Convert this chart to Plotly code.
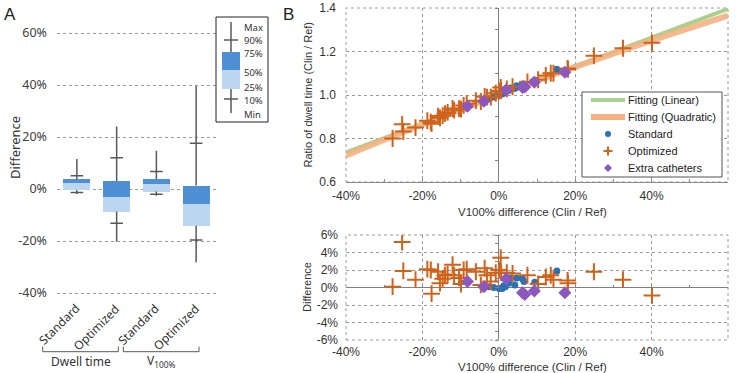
import plotly.graph_objects as go

W, H = 740, 373


def px(x):
    return x / W


def py(y):
    return 1 - y / H


# ---------------- Panel A data ----------------
cat_pos = [1, 2, 3, 4]
cat_labels = ["Standard", "Optimized", "Standard", "Optimized"]
group_labels = ["Dwell time", "V<sub>100%</sub>"]
box_min = [-0.019, -0.203, -0.026, -0.282]
box_p10 = [-0.013, -0.132, -0.020, -0.196]
box_q25 = [-0.004, -0.087, -0.010, -0.141]
box_med = [0.024, -0.032, 0.019, -0.059]
box_q75 = [0.037, 0.031, 0.038, 0.013]
box_p90 = [0.051, 0.120, 0.067, 0.176]
box_max = [0.115, 0.240, 0.147, 0.396]
a_ticks = [-0.4, -0.2, 0.0, 0.2, 0.4, 0.6]
a_ticktext = ["-40%", "-20%", "0%", "20%", "40%", "60%"]
a_legend_labels = ["Max", "90%", "75%", "50%", "25%", "10%", "Min"]

# ---------------- Panel B data ----------------
fit_lin_x = [-0.4, 0.6]
fit_lin_y = [0.736, 1.396]
fit_quad_x = [-0.4, -0.2, 0.0, 0.2, 0.4, 0.6]
fit_quad_y = [0.722, 0.864, 1.0, 1.129, 1.250, 1.365]

std_x = [-0.025, -0.013, 0.001, 0.009, 0.013, 0.017, 0.023, 0.026, 0.031, 0.042, 0.047, 0.062, 0.066, 0.094, 0.152]
std_ratio = [0.984, 0.991, 1.000, 1.005, 1.011, 1.012, 1.025, 1.022, 1.032, 1.031, 1.042, 1.051, 1.050, 1.068, 1.118]
std_diff = [0.001, 0.000, -0.001, -0.001, 0.002, 0.001, 0.010, 0.005, 0.011, 0.003, 0.011, 0.010, 0.007, 0.006, 0.019]

opt_x = [-0.278, -0.253, -0.250, -0.218, -0.187, -0.178, -0.176, -0.159, -0.154, -0.147,
         -0.141, -0.134, -0.121, -0.117, -0.104, -0.099, -0.092, -0.084, -0.060, -0.047,
         -0.037, -0.031, -0.021, -0.008, 0.001, 0.005, 0.006, 0.021, 0.036, 0.075,
         0.103, 0.123, 0.136, 0.143, 0.180, 0.181, 0.249, 0.325, 0.401]
opt_ratio = [0.800, 0.865, 0.832, 0.850, 0.882, 0.875, 0.868, 0.903, 0.895, 0.905,
             0.914, 0.920, 0.938, 0.930, 0.937, 0.935, 0.952, 0.960, 0.974, 0.970,
             0.993, 0.990, 0.990, 1.008, 1.018, 1.035, 1.020, 1.028, 1.038, 1.060,
             1.070, 1.090, 1.100, 1.100, 1.122, 1.118, 1.180, 1.215, 1.240]
opt_diff = [0.001, 0.052, 0.019, 0.009, 0.021, 0.020, -0.007, 0.018, 0.005, 0.010,
            0.014, 0.015, 0.026, 0.014, 0.011, 0.004, 0.020, 0.021, 0.018, 0.003,
            0.022, 0.014, 0.007, 0.017, 0.020, 0.034, 0.017, 0.017, 0.016, 0.014,
            0.004, 0.012, 0.014, 0.009, 0.008, 0.005, 0.018, 0.009, -0.009]

ext_x = [-0.082, -0.039, 0.019, 0.062, 0.068, 0.093, 0.173]
ext_ratio = [0.948, 0.971, 1.023, 1.035, 1.037, 1.059, 1.105]
ext_diff = [0.007, 0.001, 0.010, -0.006, -0.008, -0.004, -0.006]

b_legend_labels = ["Fitting (Linear)", "Fitting (Quadratic)", "Standard", "Optimized", "Extra catheters"]

bx_ticks = [-0.4, -0.2, 0.0, 0.2, 0.4, 0.6]
bx_ticktext = ["-40%", "-20%", "0%", "20%", "40%", "60%"]
by_ticks = [0.6, 0.8, 1.0, 1.2, 1.4]
by_ticktext = ["0.6", "0.8", "1.0", "1.2", "1.4"]
bd_ticks = [-0.06, -0.04, -0.02, 0.0, 0.02, 0.04, 0.06]
bd_ticktext = ["-6%", "-4%", "-2%", "0%", "2%", "4%", "6%"]

# ---------------- styles ----------------
DARK = "#4f8fd3"
LIGHT = "#bcd6ef"
WHISK = "#595959"
GRID = "#9a9a9a"
AXL = "#8c8c8c"
BLUE = "#2f70b0"
ORANGE = "#d0631c"
PURPLE = "#8c58bd"
GREEN = "#a9d18e"
PEACH = "#f4b183"
FA = "Noto Sans"
FB = "Liberation Sans"

fig = go.Figure()

# Panel A boxes
fig.add_trace(go.Bar(x=cat_pos, y=[m - q for m, q in zip(box_med, box_q25)], base=box_q25,
                     width=0.68, marker=dict(color=LIGHT, line=dict(width=0)),
                     xaxis="x", yaxis="y", hoverinfo="skip"))
fig.add_trace(go.Bar(x=cat_pos, y=[q - m for q, m in zip(box_q75, box_med)], base=box_med,
                     width=0.68, marker=dict(color=DARK, line=dict(width=0)),
                     xaxis="x", yaxis="y", hoverinfo="skip"))
wx, wy = [], []
for c, lo, q1, q3, hi in zip(cat_pos, box_min, box_q25, box_q75, box_max):
    wx += [c, c, None, c, c, None]
    wy += [lo, q1, None, q3, hi, None]
fig.add_trace(go.Scatter(x=wx, y=wy, mode="lines", line=dict(color=WHISK, width=1.5),
                         xaxis="x", yaxis="y", hoverinfo="skip"))
fig.add_trace(go.Scatter(x=cat_pos + cat_pos, y=box_p10 + box_p90, mode="markers",
                         marker=dict(symbol="line-ew", size=9, color=WHISK,
                                     line=dict(color=WHISK, width=1.5)),
                         xaxis="x", yaxis="y", hoverinfo="skip"))

# Panel B top
fig.add_trace(go.Scatter(x=fit_lin_x, y=fit_lin_y, mode="lines", name=b_legend_labels[0],
                         line=dict(color=GREEN, width=4), xaxis="x2", yaxis="y2"))
fig.add_trace(go.Scatter(x=fit_quad_x, y=fit_quad_y, mode="lines", name=b_legend_labels[1],
                         line=dict(color=PEACH, width=6, shape="spline"), opacity=0.9,
                         xaxis="x2", yaxis="y2"))
fig.add_trace(go.Scatter(x=std_x, y=std_ratio, mode="markers", name=b_legend_labels[2],
                         marker=dict(symbol="circle", size=7, color=BLUE),
                         xaxis="x2", yaxis="y2"))
fig.add_trace(go.Scatter(x=opt_x, y=opt_ratio, mode="markers", name=b_legend_labels[3],
                         marker=dict(symbol="cross-thin-open", size=12, color=ORANGE,
                                     line=dict(color=ORANGE, width=2)),
                         xaxis="x2", yaxis="y2"))
fig.add_trace(go.Scatter(x=ext_x, y=ext_ratio, mode="markers", name=b_legend_labels[4],
                         marker=dict(symbol="diamond", size=10, color=PURPLE),
                         xaxis="x2", yaxis="y2"))

# Panel B bottom
fig.add_trace(go.Scatter(x=std_x, y=std_diff, mode="markers",
                         marker=dict(symbol="circle", size=7, color=BLUE), xaxis="x3", yaxis="y3"))
fig.add_trace(go.Scatter(x=opt_x, y=opt_diff, mode="markers",
                         marker=dict(symbol="cross-thin-open", size=12, color=ORANGE,
                                     line=dict(color=ORANGE, width=2)),
                         xaxis="x3", yaxis="y3"))
fig.add_trace(go.Scatter(x=ext_x, y=ext_diff, mode="markers",
                         marker=dict(symbol="diamond", size=10, color=PURPLE), xaxis="x3", yaxis="y3"))

# invisible carriers for overlay tick axes
fig.add_trace(go.Scatter(x=[None], y=[None], xaxis="x2", yaxis="y4", hoverinfo="skip"))
fig.add_trace(go.Scatter(x=[None], y=[None], xaxis="x3", yaxis="y5", hoverinfo="skip"))
fig.add_trace(go.Scatter(x=[None], y=[None], xaxis="x4", yaxis="y3", hoverinfo="skip"))

tfA = dict(family=FA, size=12.5, color="#404040")
tfB = dict(family=FB, size=12, color="#333333")
grid = dict(showgrid=True, gridcolor=GRID, griddash="dot", gridwidth=1)

fig.update_layout(
    width=W, height=H, autosize=False,
    margin=dict(l=0, r=0, t=0, b=0, pad=0, autoexpand=False),
    paper_bgcolor="white", plot_bgcolor="rgba(0,0,0,0)",
    barmode="overlay", bargap=0, showlegend=False, hovermode=False,
    xaxis=dict(domain=[px(57), px(216)], range=[0.5, 4.5], visible=False, anchor="y"),
    yaxis=dict(domain=[py(298.2), py(27.8)], range=[-0.42, 0.62], anchor="x",
               tickmode="array", tickvals=a_ticks, ticktext=a_ticktext, tickfont=tfA,
               zeroline=False, showline=False, ticks="", ticklabelstandoff=9, automargin=False, **grid),
    xaxis2=dict(domain=[px(346), px(728)], range=[-0.4, 0.6], anchor="y2",
                tickmode="array", tickvals=bx_ticks, ticktext=bx_ticktext, tickfont=tfB,
                zeroline=True, zerolinecolor="#808080", zerolinewidth=1,
                showline=True, linecolor=AXL, linewidth=1,
                ticks="inside", ticklen=3, tickcolor=AXL, ticklabelstandoff=3, automargin=False,
                minor=dict(tickmode="linear", tick0=0, dtick=0.1, ticks="inside", ticklen=3,
                           tickcolor=AXL, showgrid=False),
                **grid),
    yaxis2=dict(domain=[py(182), py(8)], range=[0.6, 1.4], anchor="x2",
                tickmode="array", tickvals=by_ticks, ticktext=by_ticktext, tickfont=tfB,
                zeroline=False, showline=False, ticks="", ticklabelstandoff=9, automargin=False, **grid),
    yaxis4=dict(overlaying="y2", anchor="free", position=px(498), range=[0.6, 1.4],
                showgrid=False, zeroline=False, showline=False, showticklabels=False, automargin=False,
                tickmode="linear", tick0=0.6, dtick=0.1, ticks="outside", ticklen=3, tickcolor="#808080"),
    xaxis3=dict(domain=[px(346), px(728)], range=[-0.4, 0.6], anchor="y3",
                tickmode="array", tickvals=bx_ticks, ticktext=bx_ticktext, tickfont=tfB,
                zeroline=True, zerolinecolor="#808080", zerolinewidth=1, automargin=False,
                showline=False, ticks="", ticklabelstandoff=3, **grid),
    yaxis3=dict(domain=[py(340), py(235)], range=[-0.06, 0.06], anchor="x3",
                tickmode="array", tickvals=bd_ticks, ticktext=bd_ticktext, tickfont=tfB,
                zeroline=True, zerolinecolor="#808080", zerolinewidth=1, automargin=False,
                showline=False, ticks="", ticklabelstandoff=7, **grid),
    yaxis5=dict(overlaying="y3", anchor="free", position=px(498), range=[-0.06, 0.06],
                showgrid=False, zeroline=False, showline=False, showticklabels=False, automargin=False,
                tickmode="linear", tick0=0, dtick=0.01, ticks="outside", ticklen=3, tickcolor="#808080"),
    xaxis4=dict(overlaying="x3", anchor="free", position=py(287.5), range=[-0.4, 0.6],
                showgrid=False, zeroline=False, showline=False, showticklabels=False, automargin=False,
                tickmode="linear", tick0=0, dtick=0.1, ticks="inside", ticklen=3, tickcolor="#808080"),
)

shapes = []
# dotted frames for B panels
for xr, yr in (("x2 domain", "y2 domain"), ("x3 domain", "y3 domain")):
    shapes.append(dict(type="rect", xref=xr, yref=yr, x0=0, x1=1, y0=0, y1=1,
                       line=dict(color=GRID, width=1, dash="dot"), layer="below"))
# brackets under panel A
for x0, x1 in ((42.7, 118.3), (123.3, 199.0)):
    shapes.append(dict(type="path", xref="paper", yref="paper",
                       path=f"M {px(x0)},{py(346.5)} L {px(x0)},{py(351.7)} L {px(x1)},{py(351.7)} L {px(x1)},{py(346.5)}",
                       line=dict(color=WHISK, width=1)))
# Panel A key box
shapes.append(dict(type="rect", xref="paper", yref="paper", x0=px(216), x1=px(268), y0=py(122), y1=py(17),
                   line=dict(color="#222222", width=1), fillcolor="white"))
shapes.append(dict(type="line", xref="paper", yref="paper", x0=px(231), x1=px(231), y0=py(113), y1=py(22),
                   line=dict(color=WHISK, width=1.5)))
for yy in (40, 99):
    shapes.append(dict(type="line", xref="paper", yref="paper", x0=px(224), x1=px(238), y0=py(yy), y1=py(yy),
                       line=dict(color=WHISK, width=1.5)))
shapes.append(dict(type="rect", xref="paper", yref="paper", x0=px(222), x1=px(240), y0=py(70), y1=py(52),
                   line=dict(width=0), fillcolor=DARK))
shapes.append(dict(type="rect", xref="paper", yref="paper", x0=px(222), x1=px(240), y0=py(89), y1=py(70),
                   line=dict(width=0), fillcolor=LIGHT))
# Panel B key box (manual legend)
shapes.append(dict(type="rect", xref="paper", yref="paper", x0=px(582), x1=px(722), y0=py(177), y1=py(92),
                   line=dict(color="#555555", width=1), fillcolor="white"))
shapes.append(dict(type="line", xref="paper", yref="paper", x0=px(591), x1=px(625), y0=py(100), y1=py(100),
                   line=dict(color=GREEN, width=4)))
shapes.append(dict(type="line", xref="paper", yref="paper", x0=px(591), x1=px(625), y0=py(117), y1=py(117),
                   line=dict(color=PEACH, width=6)))
shapes.append(dict(type="circle", xref="paper", yref="paper", x0=px(605), x1=px(611), y0=py(137), y1=py(131),
                   line=dict(width=0), fillcolor=BLUE))
shapes.append(dict(type="line", xref="paper", yref="paper", x0=px(603.5), x1=px(612.5), y0=py(151), y1=py(151),
                   line=dict(color=ORANGE, width=2)))
shapes.append(dict(type="line", xref="paper", yref="paper", x0=px(608), x1=px(608), y0=py(155.5), y1=py(146.5),
                   line=dict(color=ORANGE, width=2)))
shapes.append(dict(type="path", xref="paper", yref="paper",
                   path=f"M {px(608)},{py(164)} L {px(612)},{py(168)} L {px(608)},{py(172)} L {px(604)},{py(168)} Z",
                   line=dict(width=0), fillcolor=PURPLE))
fig.update_layout(shapes=shapes)


def note(text, x, y, size, family, xanchor="center", yanchor="middle", angle=0, color="#333", **kw):
    return dict(text=text, x=x, y=y, xref=kw.pop("xref", "paper"), yref="paper", xanchor=xanchor,
                yanchor=yanchor, textangle=angle, showarrow=False,
                font=dict(family=family, size=size, color=color), **kw)


ann = [
    note("A", px(2), py(3), 17, FB, "left", "top", color="#222"),
    note("B", px(281), py(3), 17, FB, "left", "top", color="#222"),
    note("Difference", px(15), py(148), 13, FA, angle=-90),
]
for c, lab in zip(cat_pos, cat_labels):
    ann.append(note(lab, c, py(298), 12, FA, "right", "top", angle=-45, xref="x", xshift=9))
for xc, lab in zip((81, 161), group_labels):
    ann.append(note(lab, px(xc), py(361), 12, FA))
a_leg_y = [27, 40.3, 53.3, 72, 87.7, 100.7, 114]
for yy, lab in zip(a_leg_y, a_legend_labels):
    ann.append(note(lab, px(243), py(yy), 9.5, FA, "left", borderpad=0))
b_leg_y = [100, 117, 134, 151, 168]
for yy, lab in zip(b_leg_y, b_legend_labels):
    ann.append(note(lab, px(626), py(yy), 11, FB, "left", color="#222"))
ann.append(note("Ratio of dwell time (Clin / Ref)", px(307.5), py(95), 11, FB, angle=-90))
ann.append(note("V100% difference (Clin / Ref)", px(532), py(212), 11.5, FB))
ann.append(note("Difference", px(307), py(287), 11, FB, angle=-90))
ann.append(note("V100% difference (Clin / Ref)", px(532), py(367), 11.5, FB))
fig.update_layout(annotations=ann)

fig.write_html("out.html", config={"displayModeBar": False, "staticPlot": True},
               post_script="document.body.style.margin='0px';document.body.style.overflow='hidden';")
